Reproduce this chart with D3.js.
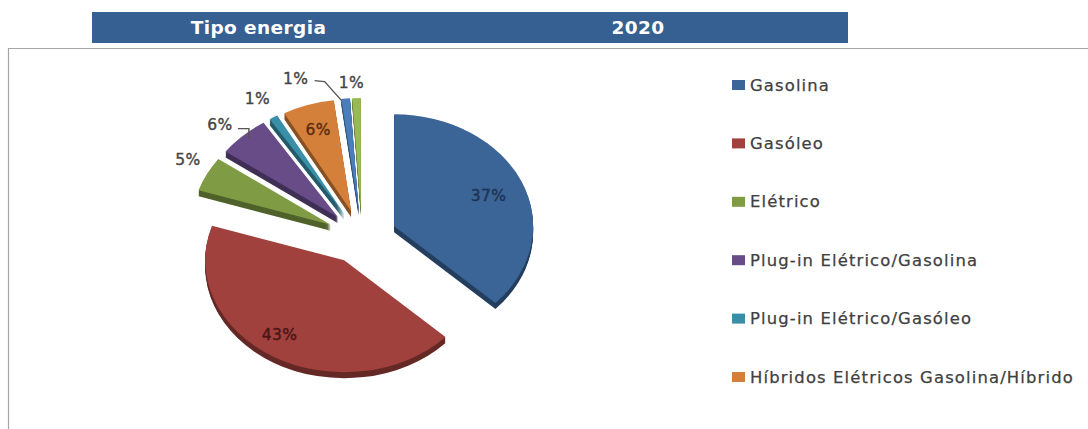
<!DOCTYPE html>
<html>
<head>
<meta charset="utf-8">
<script src="https://cdn.jsdelivr.net/npm/d3@7"></script>
<style>
  html, body { margin: 0; padding: 0; background: #fff; }
  svg { display: block; }
  text { font-family: "DejaVu Sans", sans-serif; }
</style>
</head>
<body>
<svg id="chart" width="1088" height="429"></svg>
<script>
// Energy mix for 2020: exploded, tilted pie with a legend on the right.
const headerLabels = ["Tipo energia", "2020"];
const legendLabels = ["Gasolina", "Gasóleo", "Elétrico", "Plug-in Elétrico/Gasolina", "Plug-in Elétrico/Gasóleo", "Híbridos Elétricos Gasolina/Híbrido"];
const sliceValues = [37, 43, 5, 6, 1, 6, 1, 1];
const sliceColors = ["#3b6497", "#a0413d", "#7f9c45", "#674c88", "#3a8fa8", "#d5803a", "#4a7ebb", "#98b954"];
const labelColors = ["#1d3350", "#4a1414", "#444", "#444", "#444", "#5a2c0c", "#444", "#444"];

// Label anchor per slice: fraction of the radius, plus a nudge in pixels.
const labelPlacement = [[0.74, 0, 3], [0.8, -8, -2], [1, -19, -14], [1, -23, -11], [1, -16, -18], [0.7, -3, -7], [1, -50, -20], [1, -5, -15]];
// Leader lines relative to the outer midpoint of their slice.
const leaders = { 3: [[-5, -7], [6, -7], [6, 2]], 6: [[-31, -18], [-21, -17], [-4, 2]] };

const svg = d3.select("#chart");

// Column header band
svg.append("rect").attr("x", 92).attr("y", 12).attr("width", 756).attr("height", 31).attr("fill", "#365f92");
svg.selectAll(".head").data(headerLabels).join("text")
  .attr("x", (d, i) => [258.5, 638][i]).attr("y", 34)
  .attr("text-anchor", "middle").attr("fill", "#fff")
  .attr("font-size", 18.5).attr("letter-spacing", 0.4).attr("font-weight", "bold").text(d => d);

// Chart frame: only top and left edges fall inside the page
svg.append("path").attr("d", "M8.5,429V48.5H1088").attr("fill", "none").attr("stroke", "#a6a6a6").attr("stroke-width", 1.2);

// Pie projected on a tilted plane
const cx = 362, cy = 237, rx = 139, ry = 112, ex = 35, ey = 27, depth = 6;
const unit = 100;
const arcs = d3.pie().sort(null).value(d => d)(sliceValues);
const arcPath = d3.arc().innerRadius(0).outerRadius(unit);
const mid = a => (a.startAngle + a.endAngle) / 2;
const apex = a => [cx + ex * Math.sin(mid(a)), cy - ey * Math.cos(mid(a))];
const face = a => { const [x, y] = apex(a); return `translate(${x},${y}) scale(${rx / unit},${ry / unit})`; };
const radial = (a, f) => { const [x, y] = apex(a); return [x + f * rx * Math.sin(mid(a)), y - f * ry * Math.cos(mid(a))]; };

const pie = svg.append("g");
const slices = pie.selectAll("g").data(arcs).join("g");

// Side wall: stacked copies of the slice shifted downward
slices.each(function (a) {
  const g = d3.select(this);
  const side = d3.color(sliceColors[a.index]).darker(1.3).formatHex();
  d3.range(depth, 0, -1).forEach(k => {
    g.append("path").attr("d", arcPath(a)).attr("fill", side)
      .attr("transform", `translate(0,${k}) ${face(a)}`);
  });
  g.append("path").attr("d", arcPath(a)).attr("fill", sliceColors[a.index]).attr("transform", face(a));
});

// Leader lines
const leaderLine = d3.line().curve(d3.curveLinear);
Object.keys(leaders).forEach(i => {
  const [ox, oy] = radial(arcs[i], 1);
  svg.append("path").attr("d", leaderLine(leaders[i].map(([dx, dy]) => [ox + dx, oy + dy])))
    .attr("fill", "none").attr("stroke", "#555").attr("stroke-width", 1.4);
});

// Percentage labels
svg.selectAll(".pct").data(arcs).join("text")
  .attr("text-anchor", "middle").attr("dominant-baseline", "central")
  .attr("font-size", 15.5).attr("letter-spacing", 0.4)
  .attr("stroke-width", 0.35).attr("stroke", a => labelColors[a.index])
  .attr("fill", a => labelColors[a.index])
  .attr("x", a => radial(a, labelPlacement[a.index][0])[0] + labelPlacement[a.index][1])
  .attr("y", a => radial(a, labelPlacement[a.index][0])[1] + labelPlacement[a.index][2])
  .text(a => a.value + "%");

// Legend
const legendY = d3.scalePoint().domain(d3.range(legendLabels.length)).range([85, 377]);
const legend = svg.selectAll(".legend").data(legendLabels).join("g")
  .attr("transform", (d, i) => `translate(732,${legendY(i)})`);
legend.append("rect").attr("y", -5).attr("width", 13).attr("height", 10).attr("fill", (d, i) => sliceColors[i]);
legend.append("text").attr("x", 18).attr("dominant-baseline", "central")
  .attr("font-size", 16.4).attr("letter-spacing", 1.15).attr("stroke", "#404040").attr("stroke-width", 0.25)
  .attr("fill", "#404040").text(d => d);
</script>
</body>
</html>
